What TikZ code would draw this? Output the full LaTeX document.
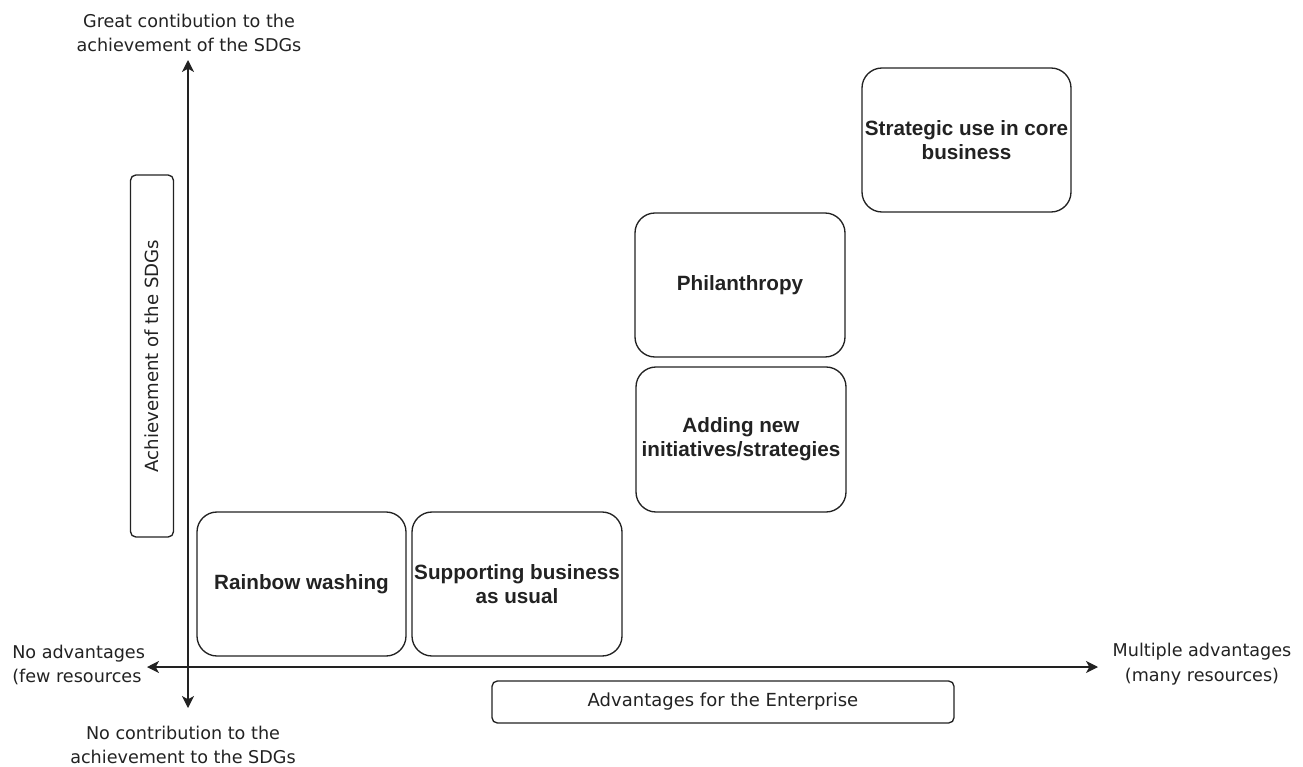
\documentclass[tikz,border=0pt]{standalone}
\usepackage{fontspec}
\setmainfont{DejaVu Sans}
\newfontfamily\boldfont{Liberation Sans}[BoldFont={Liberation Sans Bold}]
\usetikzlibrary{arrows.meta}
\definecolor{ink}{HTML}{222222}
\tikzset{
  quadbox/.style={draw=ink, line width=1pt, rounded corners=15pt, align=center, inner sep=0pt,
    font=\boldfont\bfseries\fontsize{15.5pt}{17.8pt}\selectfont, text=ink},
  labelbox/.style={draw=ink, line width=1pt, rounded corners=4pt, inner sep=0pt,
    font=\fontsize{13.5pt}{18.5pt}\selectfont, text=ink},
  plain/.style={font=\fontsize{13.2pt}{18.5pt}\selectfont, text=ink, inner sep=0pt},
  axis/.style={draw=ink, line width=1pt, {Stealth[length=9pt,width=9pt,inset=2.5pt]}-{Stealth[length=9pt,width=9pt,inset=2.5pt]}}
}
\begin{document}
\begin{tikzpicture}[x=0.75pt,y=-0.75pt]
\useasboundingbox (0,0) rectangle (1303,767);
% axes
\coordinate (ytop) at (188,60);
\coordinate (ybot) at (188,708);
\coordinate (xleft) at (147,667);
\coordinate (xright) at (1098,667);
\draw[axis] (ybot) -- (ytop);
\draw[axis] (xleft) -- (xright);
% axis end labels
\node[plain, align=center] (great) at (189,33) {Great contibution to the\\achievement of the SDGs};
\node[plain, align=center] (nocontrib) at (183,745) {No contribution to the\\achievement to the SDGs};
\node[plain, align=left, anchor=west] (noadv) at (12,665) {No advantages\\(few resources};
\node[plain, align=center] (multadv) at (1202,664) {Multiple advantages\\(many resources)};
% axis titles
\node[labelbox, minimum width=43*0.75pt, minimum height=362*0.75pt] (ach) at (152,356) {};
\node[plain, font=\fontsize{13.6pt}{18.5pt}\selectfont, rotate=90] (achtext) at (ach.center) {Achievement of the SDGs};
\node[labelbox, minimum width=462*0.75pt, minimum height=42*0.75pt] (adv) at (723,702) {Advantages for the Enterprise};
% quadrant boxes
\node[quadbox, minimum width=209*0.75pt, minimum height=144*0.75pt] (rainbow) at (301.5,584) {Rainbow washing};
\node[quadbox, minimum width=210*0.75pt, minimum height=144*0.75pt] (support) at (517,584) {Supporting business\\as usual};
\node[quadbox, minimum width=210*0.75pt, minimum height=145*0.75pt] (adding) at (741,439.5) {Adding new\\initiatives/strategies};
\node[quadbox, minimum width=210*0.75pt, minimum height=144*0.75pt] (phil) at (740,285) {Philanthropy};
\node[quadbox, minimum width=209*0.75pt, minimum height=144*0.75pt] (strat) at (966.5,140) {Strategic use in core\\business};
\end{tikzpicture}
\end{document}
